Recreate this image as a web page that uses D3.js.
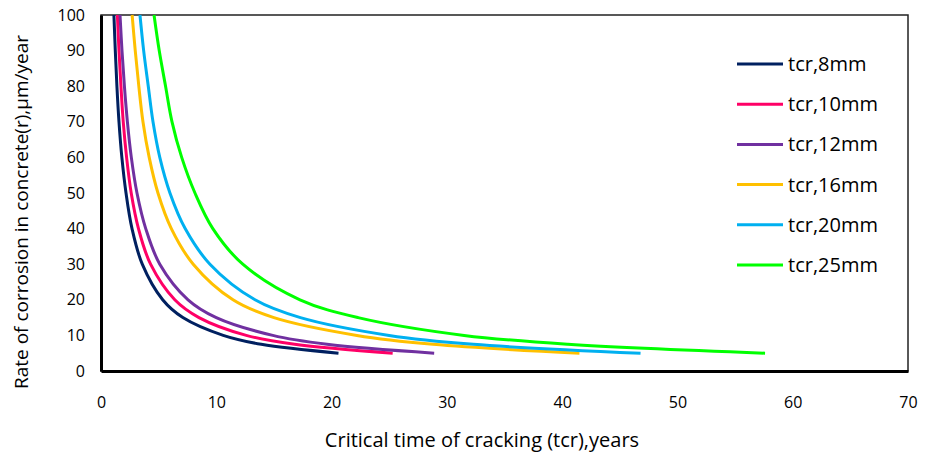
<!DOCTYPE html>
<html><head><meta charset="utf-8">
<script src="https://cdn.jsdelivr.net/npm/d3@7"></script>
<style>
body{margin:0;background:#fff;}
text{font-family:"Open Sans",sans-serif;fill:#000;}
</style></head>
<body><svg id="c" width="930" height="456"></svg>
<script>
const rates = [100, 90, 80, 70, 60, 50, 40, 30, 20, 15, 10, 7.5, 5];
const t8  = [1.12, 1.24, 1.38, 1.56, 1.81, 2.17, 2.69, 3.58, 5.35, 7.1, 10.6, 13.9, 20.6];
const t10 = [1.42, 1.56, 1.73, 1.93, 2.22, 2.62, 3.25, 4.3, 6.4, 8.5, 12.6, 16.8, 25.3];
const t12 = [1.65, 1.82, 2.03, 2.29, 2.63, 3.12, 3.88, 5.1, 7.55, 10.0, 14.9, 19.6, 28.9];
const t16 = [2.7, 2.97, 3.28, 3.64, 4.18, 4.94, 6.1, 8.0, 11.45, 15.0, 22.2, 28.8, 41.5];
const t20 = [3.38, 3.7, 4.1, 4.51, 5.1, 5.98, 7.3, 9.45, 13.36, 17.3, 25.0, 32.3, 46.8];
const t25 = [4.6, 5.05, 5.6, 6.16, 7.0, 8.15, 9.7, 12.3, 17.26, 22.3, 31.5, 40.5, 57.6];
const seriesNames = ["tcr,8mm", "tcr,10mm", "tcr,12mm", "tcr,16mm", "tcr,20mm", "tcr,25mm"];
const seriesColors = ["#002060", "#FF0066", "#7030A0", "#FFC000", "#00B0F0", "#00FF00"];
const xTicks = [0, 10, 20, 30, 40, 50, 60, 70];
const yTicks = [0, 10, 20, 30, 40, 50, 60, 70, 80, 90, 100];
const xTitle = "Critical time of cracking (tcr),years";
const yTitle = "Rate of corrosion in concrete(r),µm/year";

const seriesData = [t8, t10, t12, t16, t20, t25];
const svg = d3.select("#c");
const m = {l:101, t:15, r:22, b:85};
const W = 930 - m.l - m.r, H = 456 - m.t - m.b;
const x = d3.scaleLinear().domain([0,70]).range([m.l, m.l+W]);
const y = d3.scaleLinear().domain([0,100]).range([m.t+H, m.t]);

// frame
svg.append("rect").attr("x", m.l).attr("y", m.t).attr("width", W).attr("height", H)
  .attr("fill","none").attr("stroke","#222").attr("stroke-width",1.5);

// lines
const line = d3.line().x(d=>x(d[0])).y(d=>y(d[1])).curve(d3.curveCatmullRom.alpha(0.5));
seriesData.forEach((ts,i)=>{
  const pts = ts.map((t,j)=>[t, rates[j]]);
  svg.append("path").datum(pts).attr("d", line).attr("fill","none")
    .attr("stroke", seriesColors[i]).attr("stroke-width", 3).attr("stroke-linecap","butt")
    .attr("stroke-linejoin","round");
});

// axes
const xAxis = svg.append("g").attr("transform",`translate(0,${m.t+H})`)
  .call(d3.axisBottom(x).tickValues(xTicks).tickSize(0).tickPadding(26).tickFormat(d3.format("d")));
const yAxis = svg.append("g").attr("transform",`translate(${m.l},0)`)
  .call(d3.axisLeft(y).tickValues(yTicks).tickSize(0).tickPadding(16).tickFormat(d3.format("d")));
[xAxis,yAxis].forEach(a=>{
  a.select(".domain").attr("stroke","#000").attr("stroke-width",3);
  a.selectAll("text").style("font-family","'Open Sans',sans-serif").style("font-size","16px").attr("fill","#000");
});

// titles
svg.append("text").attr("x", 482).attr("y", 447).attr("text-anchor","middle")
  .style("font-size","20px").text(xTitle);
svg.append("text").attr("transform","translate(28,212) rotate(-90)").attr("text-anchor","middle")
  .style("font-size","19px").text(yTitle);

// legend
const lg = svg.append("g");
seriesNames.forEach((n,i)=>{
  const yy = 64 + i*40.2;
  lg.append("line").attr("x1",737).attr("x2",783).attr("y1",yy).attr("y2",yy)
    .attr("stroke",seriesColors[i]).attr("stroke-width",3);
  lg.append("text").attr("x",788).attr("y",yy+7).style("font-size","20px").text(n);
});
</script></body></html>
